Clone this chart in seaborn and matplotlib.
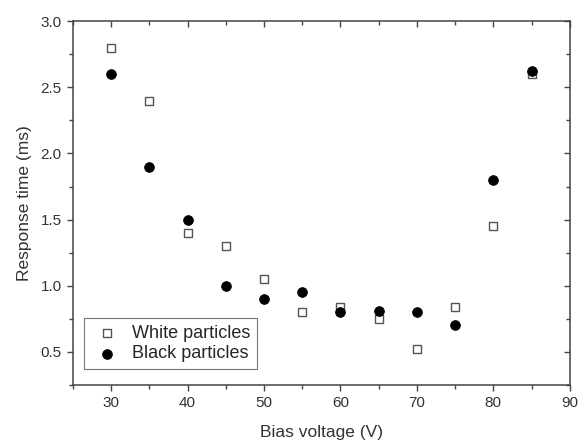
import numpy as np
import pandas as pd
import matplotlib
matplotlib.use('Agg')
import matplotlib.pyplot as plt
import seaborn as sns
from matplotlib.ticker import MultipleLocator

sns.set_style('ticks')
plt.rcParams['font.family'] = ['Liberation Sans', 'DejaVu Sans']

voltage = [30, 35, 40, 45, 50, 55, 60, 65, 70, 75, 80, 85]
white = [2.80, 2.40, 1.40, 1.30, 1.05, 0.80, 0.84, 0.75, 0.52, 0.84, 1.45, 2.60]
black = [2.60, 1.90, 1.50, 1.00, 0.90, 0.95, 0.80, 0.81, 0.80, 0.70, 1.80, 2.62]

df = pd.DataFrame({'voltage': voltage, 'white': white, 'black': black})

fig, ax = plt.subplots(figsize=(5.79, 4.41), dpi=100)
sns.scatterplot(data=df, x='voltage', y='white', marker='s', s=40,
                facecolor='white', edgecolor='#555555', linewidth=1.0,
                label='White particles', ax=ax, zorder=3)
sns.scatterplot(data=df, x='voltage', y='black', marker='o', s=50,
                color='black', edgecolor='black', linewidth=0.5,
                label='Black particles', ax=ax, zorder=4)

ax.set_xlim(25, 90)
ax.set_ylim(0.25, 3.0)
ax.xaxis.set_major_locator(MultipleLocator(10))
ax.xaxis.set_minor_locator(MultipleLocator(5))
ax.yaxis.set_major_locator(MultipleLocator(0.5))
ax.yaxis.set_minor_locator(MultipleLocator(0.25))
ax.tick_params(which='both', direction='out', colors='#444444', labelcolor='#333333',
               labelsize=11)
ax.tick_params(which='major', length=4.5, width=1)
ax.tick_params(which='minor', length=3, width=1)
for sp in ax.spines.values():
    sp.set_color('#444444')
    sp.set_linewidth(1.1)

# inward ticks on top and right, Origin style
top = ax.secondary_xaxis('top')
top.xaxis.set_major_locator(MultipleLocator(10))
top.xaxis.set_minor_locator(MultipleLocator(5))
top.tick_params(which='both', direction='in', colors='#444444', labeltop=False)
top.tick_params(which='major', length=4.5, width=1)
top.tick_params(which='minor', length=3, width=1)
right = ax.secondary_yaxis('right')
right.yaxis.set_major_locator(MultipleLocator(0.5))
right.yaxis.set_minor_locator(MultipleLocator(0.25))
right.tick_params(which='both', direction='in', colors='#444444', labelright=False)
right.tick_params(which='major', length=4.5, width=1)
right.tick_params(which='minor', length=3, width=1)
for sec in [top, right]:
    for sp in sec.spines.values():
        sp.set_visible(False)

ax.set_xlabel('Bias voltage (V)', fontsize=12.5, color='#333333', labelpad=11)
ax.set_ylabel('Response time (ms)', fontsize=12.5, color='#333333', labelpad=6)

leg = ax.legend(loc='lower left', fontsize=13, frameon=True, fancybox=False,
                edgecolor='#555555', handletextpad=0.5, handlelength=1.8,
                borderpad=0.35, labelspacing=0.2, bbox_to_anchor=(0.004, 0.02))
leg.get_frame().set_linewidth(0.8)

fig.subplots_adjust(left=0.126, right=0.984, top=0.952, bottom=0.127)
fig.savefig('out.png', dpi=100)
